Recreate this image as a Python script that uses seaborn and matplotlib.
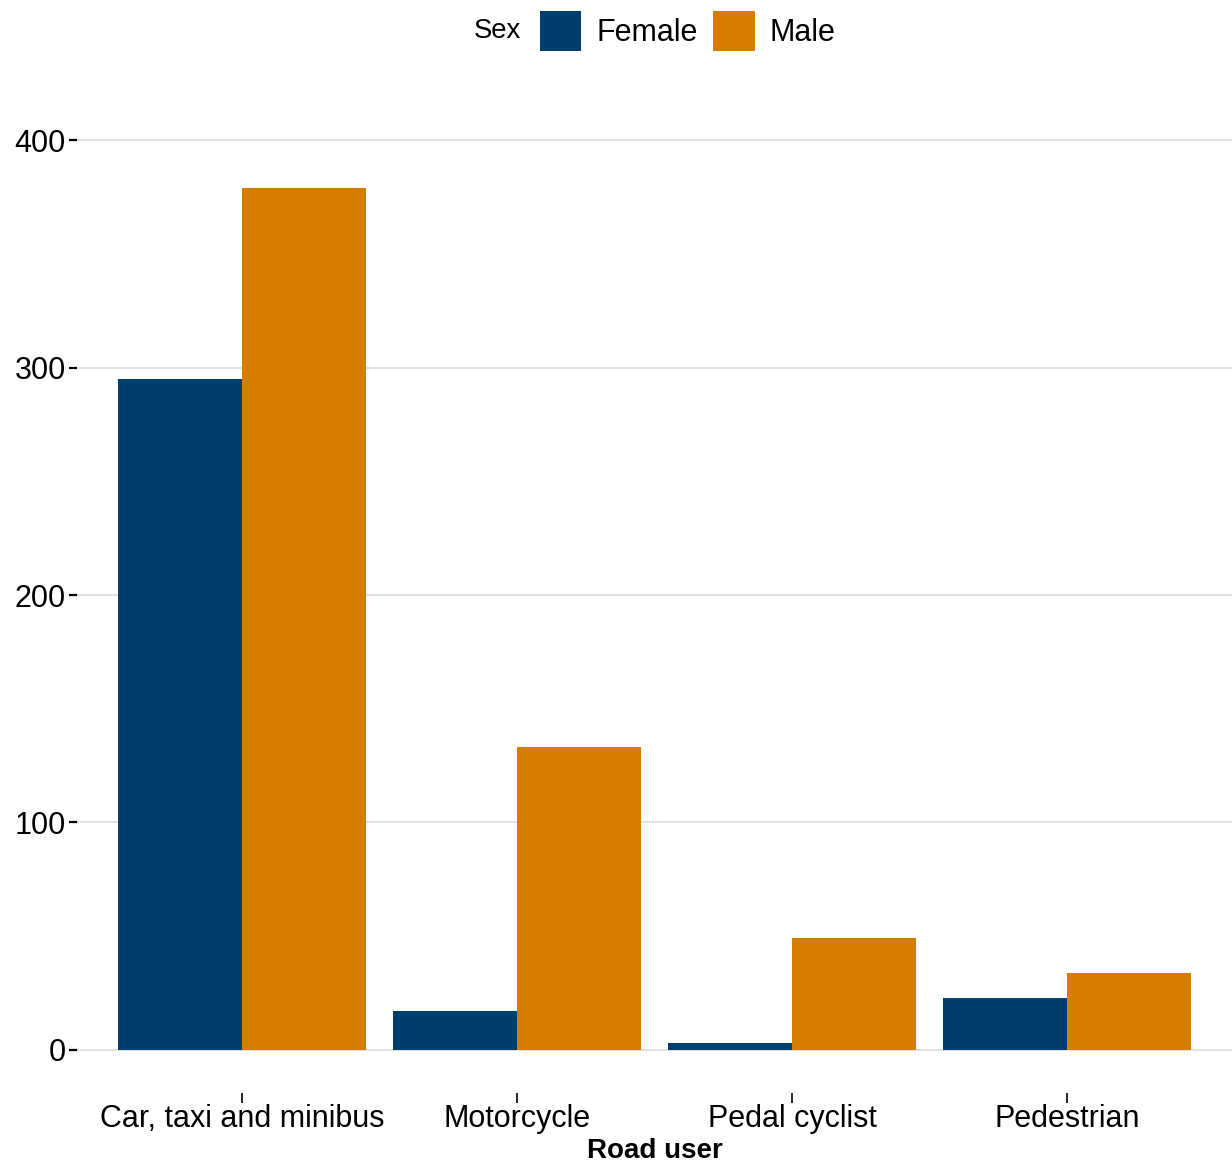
import numpy as np
import pandas as pd
import seaborn as sns
import matplotlib as mpl
import matplotlib.pyplot as plt
from matplotlib.patches import Patch

road_users = ['Car, taxi and minibus', 'Motorcycle', 'Pedal cyclist', 'Pedestrian']
sexes = ['Female', 'Male']
female = [295, 17, 3, 23]
male = [379, 133, 49, 34]

palette = {'Female': '#003f6b', 'Male': '#d67d00'}

df = pd.DataFrame({
    'road_user': road_users * 2,
    'sex': ['Female'] * len(road_users) + ['Male'] * len(road_users),
    'value': female + male,
})

sns.set_theme(style='white')
plt.rcParams['font.family'] = ['Liberation Sans', 'DejaVu Sans']
plt.rcParams['text.color'] = 'black'
plt.rcParams['xtick.color'] = 'black'
plt.rcParams['ytick.color'] = 'black'
plt.rcParams['axes.labelcolor'] = 'black'

fs = 22

fig = plt.figure(figsize=(12.32, 11.65), dpi=100)
ax = fig.add_axes([77 / 1232, 72 / 1165, 1 - 77 / 1232, (1093 - 95) / 1165])

sns.barplot(data=df, x='road_user', y='value', hue='sex', hue_order=sexes,
            order=road_users, palette=palette, width=0.9, gap=0,
            saturation=1, linewidth=0, ax=ax, legend=False)

ax.set_xlim(-0.6, 3.6)
ax.set_ylim(-19, 420)
ax.set_yticks([0, 100, 200, 300, 400])
ax.yaxis.grid(True, color='#dcdcdc', linewidth=1.2)
ax.xaxis.grid(False)
ax.set_axisbelow(True)
for s in ax.spines.values():
    s.set_visible(False)

ax.tick_params(axis='y', which='major', length=6, width=1.6, color='black',
               labelsize=fs, pad=2, left=True, direction='out')
ax.tick_params(axis='x', which='major', length=7, width=1.2, color='black',
               labelsize=fs, pad=1, bottom=True, direction='out')
ax.set_ylabel('')
ax.set_xlabel('Road user', fontsize=20, fontweight='bold', labelpad=3)

handles = [Patch(facecolor=palette[s], edgecolor='none', label=s) for s in sexes]
fig.legend(handles=handles, loc='center', bbox_to_anchor=(688 / 1232, 1 - 31 / 1165),
           ncol=2, frameon=False, fontsize=fs, handlelength=1.35, handleheight=1.65,
           handletextpad=0.5, columnspacing=0.5)
fig.text(497 / 1232, 1 - 31 / 1165, 'Sex', fontsize=fs * 0.9, ha='center', va='center')

fig.savefig('out.png', dpi=100)
